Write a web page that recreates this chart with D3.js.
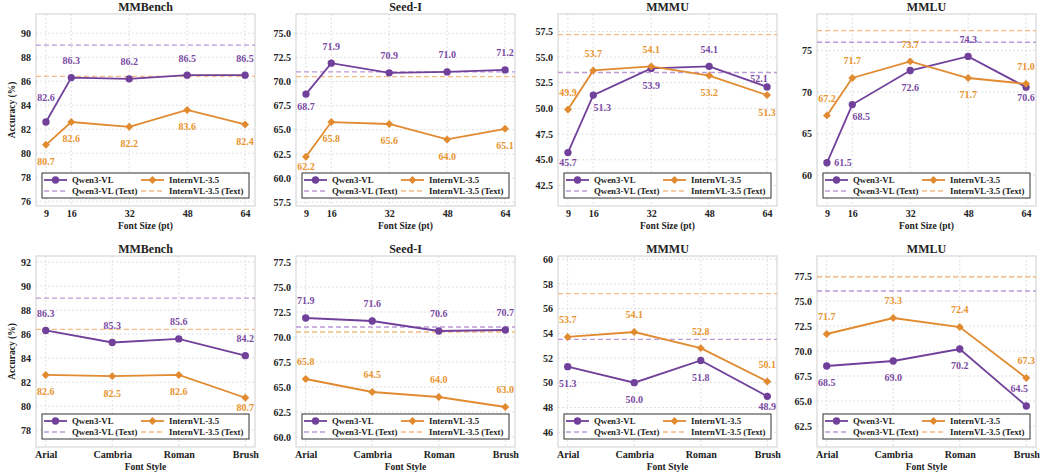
<!DOCTYPE html>
<html>
<head>
<meta charset="utf-8">
<script src="https://cdn.jsdelivr.net/npm/d3@7"></script>
<style>
  body { margin: 0; background: #fff; }
  svg text { font-family: "Liberation Serif", "Times New Roman", serif; font-weight: bold; }
</style>
</head>
<body>
<div id="chart"></div>
<script>
// x categories
var fontSizes = [9, 16, 32, 48, 64];
var fontStyles = ["Arial", "Cambria", "Roman", "Brush"];
var benchmarks = ["MMBench", "Seed-I", "MMMU", "MMLU"];

// font size row
var qwenSize = [
  [82.6, 86.3, 86.2, 86.5, 86.5],
  [68.7, 71.9, 70.9, 71.0, 71.2],
  [45.7, 51.3, 53.9, 54.1, 52.1],
  [61.5, 68.5, 72.6, 74.3, 70.6]
];
var internSize = [
  [80.7, 82.6, 82.2, 83.6, 82.4],
  [62.2, 65.8, 65.6, 64.0, 65.1],
  [49.9, 53.7, 54.1, 53.2, 51.3],
  [67.2, 71.7, 73.7, 71.7, 71.0]
];
// font style row
var qwenStyle = [
  [86.3, 85.3, 85.6, 84.2],
  [71.9, 71.6, 70.6, 70.7],
  [51.3, 50.0, 51.8, 48.9],
  [68.5, 69.0, 70.2, 64.5]
];
var internStyle = [
  [82.6, 82.5, 82.6, 80.7],
  [65.8, 64.5, 64.0, 63.0],
  [53.7, 54.1, 52.8, 50.1],
  [71.7, 73.3, 72.4, 67.3]
];
// text-only baselines
var qwenText = [89.0, 71.0, 53.5, 76.0];
var internText = [86.4, 70.5, 57.2, 77.4];

// y ticks per panel
var yTicksSize = [
  [76, 78, 80, 82, 84, 86, 88, 90],
  [57.5, 60, 62.5, 65, 67.5, 70, 72.5, 75],
  [42.5, 45, 47.5, 50, 52.5, 55, 57.5],
  [60, 65, 70, 75]
];
var yTicksStyle = [
  [78, 80, 82, 84, 86, 88, 90, 92],
  [60, 62.5, 65, 67.5, 70, 72.5, 75, 77.5],
  [46, 48, 50, 52, 54, 56, 58, 60],
  [62.5, 65, 67.5, 70, 72.5, 75, 77.5]
];
var yDomSize = [[75.6, 91.6], [57.1, 77.0], [40.5, 59.2], [56.3, 79.4]];
var yDomStyle = [[76.6, 92.5], [59.0, 78.1], [44.8, 60.25], [60.4, 79.5]];

// where each value label sits (see labelOffset below)
var qwenSizePos = [
  ["au", "a", "a", "a", "a"],
  ["bm", "a", "a", "a", "a"],
  ["bs", "br", "b", "a", "al"],
  ["r", "br", "b", "a", "bs"]
];
var internSizePos = [
  ["b", "b", "b", "b", "b"],
  ["bs", "b", "b", "b", "b"],
  ["a", "a", "a", "b", "b"],
  ["a", "a", "a", "b", "a"]
];
var qwenStylePos = [
  ["a", "a", "a", "a"],
  ["a", "a", "a", "a"],
  ["b", "b", "b", "bs"],
  ["b", "b", "b", "al2"]
];
var internStylePos = [
  ["b", "b", "b", "bs"],
  ["a", "a", "a", "a"],
  ["a", "a", "a", "a"],
  ["a", "a", "a", "a"]
];
var labelOffset = {
  a: [0, -17], au: [0, -24], b: [0, 17], bm: [0, 13], bs: [0, 10],
  br: [9, 12], al: [-8, -8], al2: [-7, -17], r: [16, 0]
};

var purple = "#71409a", orange = "#e18a30";
var purpleLbl = "#7a4aa3", orangeLbl = "#e8942f";
var purpleDash = "#bb9bd8", orangeDash = "#f5ba82";

var W = 1040, H = 473;
var svg = d3.select("#chart").append("svg").attr("width", W).attr("height", H);

var colLeft = [36, 296, 558, 817];
var pw = 219;
var rows = [
  { top: 14, h: 192, cats: fontSizes, numeric: true, q: qwenSize, i: internSize, qp: qwenSizePos, ip: internSizePos,
    ticks: yTicksSize, dom: yDomSize, xlabel: "Font Size (pt)" },
  { top: 256, h: 191, cats: fontStyles, numeric: false, q: qwenStyle, i: internStyle, qp: qwenStylePos, ip: internStylePos,
    ticks: yTicksStyle, dom: yDomStyle, xlabel: "Font Style" }
];

function marker(type) {
  return d3.symbol().type(type === "circle" ? d3.symbolCircle : d3.symbolDiamond2).size(type === "circle" ? 42 : 40)();
}

rows.forEach(function (row, r) {
  benchmarks.forEach(function (name, c) {
    var g = svg.append("g").attr("transform", "translate(" + colLeft[c] + "," + row.top + ")");
    var x;
    if (row.numeric) {
      x = d3.scaleLinear().domain([9 - 2.75, 64 + 2.75]).range([0, pw]);
    } else {
      x = d3.scalePoint().domain(row.cats).range([9.7, pw - 9.7]);
    }
    var y = d3.scaleLinear().domain(row.dom[c]).range([row.h, 0]);

    // grid
    g.append("g").selectAll("line").data(row.ticks[c]).enter().append("line")
      .attr("x1", 0).attr("x2", pw)
      .attr("y1", function (d) { return y(d); }).attr("y2", function (d) { return y(d); })
      .attr("stroke", "#d9d9d9").attr("stroke-width", 0.8).attr("stroke-dasharray", "2,2");
    g.append("g").selectAll("line").data(row.cats).enter().append("line")
      .attr("x1", function (d) { return x(d); }).attr("x2", function (d) { return x(d); })
      .attr("y1", 0).attr("y2", row.h)
      .attr("stroke", "#d9d9d9").attr("stroke-width", 0.8).attr("stroke-dasharray", "2,2");

    // axes
    var yAxis = d3.axisLeft(y).tickValues(row.ticks[c]).tickSize(0).tickPadding(5)
      .tickFormat(row.ticks[c].some(function (t) { return t % 1 !== 0; }) ? d3.format(".1f") : d3.format("d"));
    var ya = g.append("g").call(yAxis);
    ya.select(".domain").remove();
    ya.selectAll("text").attr("font-size", 10).attr("fill", "#222");

    var xAxis = (row.numeric ? d3.axisBottom(x).tickValues(row.cats).tickFormat(d3.format("d")) : d3.axisBottom(x))
      .tickSize(0).tickPadding(4);
    var xa = g.append("g").attr("transform", "translate(0," + row.h + ")").call(xAxis);
    xa.select(".domain").remove();
    xa.selectAll("text").attr("font-size", 10).attr("fill", "#222");

    // frame
    g.append("rect").attr("x", 0).attr("y", 0).attr("width", pw).attr("height", row.h)
      .attr("fill", "none").attr("stroke", "#cfcfcf").attr("stroke-width", 1);

    // titles
    g.append("text").attr("x", pw / 2).attr("y", -3).attr("text-anchor", "middle")
      .attr("font-size", 12).attr("fill", "#222").text(name);
    g.append("text").attr("x", pw / 2).attr("y", row.h + 23).attr("text-anchor", "middle")
      .attr("font-size", 9.5).attr("fill", "#222").text(row.xlabel);
    if (c === 0) {
      g.append("text").attr("transform", "translate(-21," + (row.h / 2) + ") rotate(-90)")
        .attr("text-anchor", "middle").attr("font-size", 9.5).attr("fill", "#222").text("Accuracy (%)");
    }

    // text baselines
    [[qwenText[c], purpleDash], [internText[c], orangeDash]].forEach(function (b) {
      g.append("line").attr("x1", 0).attr("x2", pw).attr("y1", y(b[0])).attr("y2", y(b[0]))
        .attr("stroke", b[1]).attr("stroke-width", 1.3).attr("stroke-dasharray", "5,3");
    });

    var line = d3.line().x(function (d) { return x(d[0]); }).y(function (d) { return y(d[1]); });
    var series = [
      { vals: row.q[c], pos: row.qp[c], col: purple, lc: purpleLbl, m: "circle" },
      { vals: row.i[c], pos: row.ip[c], col: orange, lc: orangeLbl, m: "diamond" }
    ];
    series.forEach(function (s) {
      var pts = row.cats.map(function (k, j) { return [k, s.vals[j]]; });
      g.append("path").datum(pts).attr("d", line).attr("fill", "none")
        .attr("stroke", s.col).attr("stroke-width", 1.8);
      g.selectAll(null).data(pts).enter().append("path")
        .attr("transform", function (d) { return "translate(" + x(d[0]) + "," + y(d[1]) + ")"; })
        .attr("d", marker(s.m))
        .attr("fill", s.col);
    });

    // legend
    var lg = g.append("g").attr("transform", "translate(6," + (row.h - 33) + ")");
    lg.append("rect").attr("width", 207).attr("height", 25).attr("fill", "#fff")
      .attr("stroke", "#333").attr("stroke-width", 1);
    var entries = [
      { t: "Qwen3-VL", col: purple, dash: null, m: "circle", x: 0, y: 7 },
      { t: "InternVL-3.5", col: orange, dash: null, m: "diamond", x: 97, y: 7 },
      { t: "Qwen3-VL (Text)", col: purpleDash, dash: "5,3", m: null, x: 0, y: 18 },
      { t: "InternVL-3.5 (Text)", col: orangeDash, dash: "5,3", m: null, x: 97, y: 18 }
    ];
    entries.forEach(function (e) {
      lg.append("line").attr("x1", e.x + 2).attr("x2", e.x + 25).attr("y1", e.y).attr("y2", e.y)
        .attr("stroke", e.col).attr("stroke-width", e.dash ? 1.3 : 1.8).attr("stroke-dasharray", e.dash);
      if (e.m) {
        lg.append("path").attr("transform", "translate(" + (e.x + 13.5) + "," + e.y + ")")
          .attr("d", marker(e.m)).attr("fill", e.col);
      }
      lg.append("text").attr("x", e.x + 30).attr("y", e.y + 3.2).attr("font-size", 8.8)
        .attr("fill", "#222").text(e.t);
    });

    // value labels
    series.forEach(function (s) {
      var pts = row.cats.map(function (k, j) { return [k, s.vals[j], labelOffset[s.pos[j]]]; });
      g.selectAll(null).data(pts).enter().append("text")
        .attr("x", function (d) { return x(d[0]) + d[2][0]; })
        .attr("y", function (d) { return y(d[1]) + d[2][1] + 3.4; })
        .attr("text-anchor", "middle").attr("font-size", 10).attr("fill", s.lc)
        .text(function (d) { return d3.format(".1f")(d[1]); });
    });
  });
});
</script>
</body>
</html>
